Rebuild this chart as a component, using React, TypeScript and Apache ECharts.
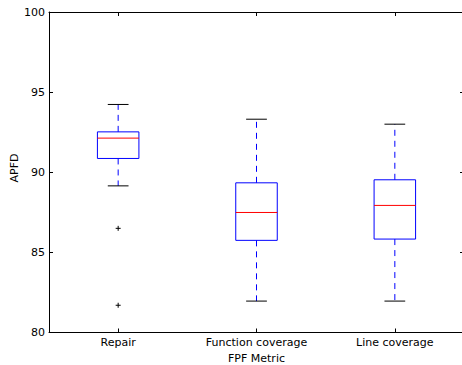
import React, { useEffect, useRef } from "react";
import * as echarts from "echarts";

const categories = ["Repair", "Function coverage", "Line coverage"];
const whiskerLow = [89.15, 81.96, 81.96];
const q1 = [90.86, 85.75, 85.83];
const median = [92.13, 87.49, 87.93];
const q3 = [92.52, 89.34, 89.53];
const whiskerHigh = [94.23, 93.31, 93.0];
const outlierCategory = [0, 0];
const outlierValues = [86.5, 81.7];
const yMin = 80;
const yMax = 100;
const yInterval = 5;

const FONT = "DejaVu Sans";

export default function App() {
  const ref = useRef<HTMLDivElement>(null);
  useEffect(() => {
    if (!ref.current) return;
    const chart = echarts.init(ref.current, null, { renderer: "svg" });
    const boxData = categories.map((_, i) => [
      i,
      whiskerLow[i],
      q1[i],
      median[i],
      q3[i],
      whiskerHigh[i],
    ]);
    const outlierData = outlierValues.map((v, k) => [outlierCategory[k], v]);
    const tickLabel = { fontFamily: FONT, fontSize: 11, color: "#000" };
    chart.setOption({
      animation: false,
      grid: {
        left: 49,
        top: 12,
        width: 415,
        height: 320.5,
        containLabel: false,
        outerBoundsMode: "none",
      },
      graphic: [
        {
          type: "text",
          x: 14,
          y: 168,
          rotation: Math.PI / 2,
          style: {
            text: "APFD",
            fontFamily: FONT,
            fontSize: 11,
            fill: "#000",
            align: "center",
            verticalAlign: "middle",
          },
        },
      ],
      xAxis: [
        {
          type: "category",
          data: categories,
          boundaryGap: true,
          name: "FPF Metric",
          nameLocation: "middle",
          nameGap: 20,
          nameTextStyle: { fontFamily: FONT, fontSize: 11, color: "#000" },
          axisLine: { show: true, lineStyle: { color: "#000", width: 1 } },
          axisTick: { show: true, inside: true, alignWithLabel: true, length: 4, lineStyle: { color: "#000" } },
          axisLabel: { ...tickLabel, margin: 4 },
          splitLine: { show: false },
        },
        {
          type: "category",
          data: categories,
          position: "top",
          boundaryGap: true,
          axisLine: { show: true, lineStyle: { color: "#000", width: 1 } },
          axisTick: { show: true, inside: true, alignWithLabel: true, length: 4, lineStyle: { color: "#000" } },
          axisLabel: { show: false },
          splitLine: { show: false },
        },
      ],
      yAxis: [
        {
          type: "value",
          min: yMin,
          max: yMax,
          interval: yInterval,
          axisLine: { show: true, lineStyle: { color: "#000", width: 1 } },
          axisTick: { show: true, inside: true, length: 4, lineStyle: { color: "#000" } },
          axisLabel: { ...tickLabel, margin: 4 },
          splitLine: { show: false },
        },
        {
          type: "value",
          min: yMin,
          max: yMax,
          interval: yInterval,
          position: "right",
          axisLine: { show: true, lineStyle: { color: "#000", width: 1 } },
          axisTick: { show: true, inside: true, length: 4, lineStyle: { color: "#000" } },
          axisLabel: { show: false },
          splitLine: { show: false },
        },
      ],
      series: [
        {
          type: "custom",
          xAxisIndex: 0,
          yAxisIndex: 0,
          data: boxData,
          renderItem: (params: any, api: any) => {
            const i = api.value(0);
            const lo = api.coord([i, api.value(1)]);
            const b1 = api.coord([i, api.value(2)]);
            const md = api.coord([i, api.value(3)]);
            const b3 = api.coord([i, api.value(4)]);
            const hi = api.coord([i, api.value(5)]);
            const unit = api.size([1, 0])[0];
            const bw = unit * 0.3;
            const cw = unit * 0.15;
            const x = lo[0];
            const dash = { stroke: "#0000ff", lineWidth: 1, lineDash: [6, 5] };
            return {
              type: "group",
              children: [
                { type: "line", shape: { x1: x, y1: b3[1], x2: x, y2: hi[1] }, style: dash },
                { type: "line", shape: { x1: x, y1: b1[1], x2: x, y2: lo[1] }, style: dash },
                { type: "line", shape: { x1: x - cw / 2, y1: hi[1], x2: x + cw / 2, y2: hi[1] }, style: { stroke: "#000", lineWidth: 1 } },
                { type: "line", shape: { x1: x - cw / 2, y1: lo[1], x2: x + cw / 2, y2: lo[1] }, style: { stroke: "#000", lineWidth: 1 } },
                {
                  type: "rect",
                  shape: { x: x - bw / 2, y: b3[1], width: bw, height: b1[1] - b3[1] },
                  style: { fill: "none", stroke: "#0000ff", lineWidth: 1 },
                },
                { type: "line", shape: { x1: x - bw / 2, y1: md[1], x2: x + bw / 2, y2: md[1] }, style: { stroke: "#ff0000", lineWidth: 1 } },
              ],
            };
          },
        },
        {
          type: "custom",
          xAxisIndex: 0,
          yAxisIndex: 0,
          data: outlierData,
          renderItem: (params: any, api: any) => {
            const p = api.coord([api.value(0), api.value(1)]);
            const s = 2.5;
            return {
              type: "group",
              children: [
                { type: "line", shape: { x1: p[0] - s, y1: p[1], x2: p[0] + s, y2: p[1] }, style: { stroke: "#000", lineWidth: 1 } },
                { type: "line", shape: { x1: p[0], y1: p[1] - s, x2: p[0], y2: p[1] + s }, style: { stroke: "#000", lineWidth: 1 } },
              ],
            };
          },
        },
      ],
    });
    return () => chart.dispose();
  }, []);
  return (
    <div
      ref={ref}
      style={{ position: "fixed", left: 0, top: 0, width: 462, height: 365, background: "#fff" }}
    />
  );
}
